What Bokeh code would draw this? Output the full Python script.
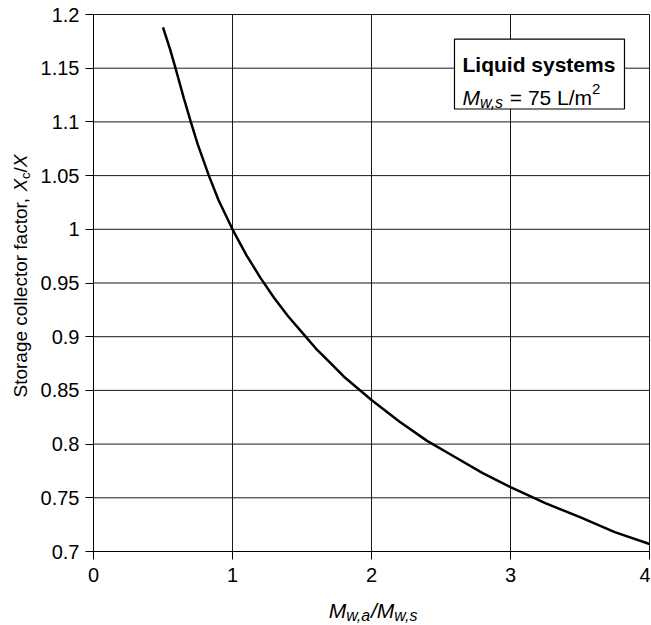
import math
from bokeh.plotting import figure
from bokeh.models import Range1d, FixedTicker, Label, BoxAnnotation
from bokeh.embed import file_html
from bokeh.resources import INLINE

# ---- data ----
ratio = [0.5, 0.55, 0.59, 0.65, 0.7, 0.75, 0.83, 0.9, 1.0, 1.1, 1.2, 1.3, 1.4, 1.5,
         1.6, 1.7, 1.8, 1.9, 2.0, 2.2, 2.4, 2.6, 2.8, 3.0, 3.25, 3.5, 3.75, 4.0]
factor = [1.188, 1.168, 1.150, 1.122, 1.100, 1.079, 1.050, 1.027, 1.000, 0.976, 0.955,
          0.936, 0.919, 0.904, 0.889, 0.876, 0.863, 0.852, 0.841, 0.821, 0.803, 0.788,
          0.773, 0.760, 0.745, 0.732, 0.718, 0.707]

x_ticks = [0, 1, 2, 3, 4]
x_tick_labels = ["0", "1", "2", "3", "4"]
y_ticks = [0.7, 0.75, 0.8, 0.85, 0.9, 0.95, 1.0, 1.05, 1.1, 1.15, 1.2]
y_tick_labels = ["0.7", "0.75", "0.8", "0.85", "0.9", "0.95", "1", "1.05", "1.1", "1.15", "1.2"]

FONT = "Liberation Sans"
NB = "\u00a0"

# Arial/Liberation advance widths (1/1000 em) for layout of composed labels
ADV = {' ': 278, NB: 278, ',': 278, '.': 278, '/': 278, '=': 584, 'S': 667, 'X': 667,
       'M': 833, 'L': 556, 'a': 556, 'c': 500, 'e': 556, 'f': 278, 'g': 556, 'l': 222,
       'm': 833, 'o': 556, 'r': 333, 's': 500, 't': 278, 'w': 722, 'i': 222, 'q': 556,
       'u': 556, 'd': 556, 'y': 500}


def tw(s, size):
    return sum(ADV.get(ch, 556) for ch in s) * size / 1000.0


# canvas size and where the chart's plotting box sits inside it (canvas px)
W, H = 650, 624
PL, PR, PT, PB = 93, 649, 14, 551

x0, x1 = x_ticks[0], x_ticks[-1]
y0, y1 = y_ticks[0], y_ticks[-1]
sx = (PR - PL) / (x1 - x0)
sy = (PB - PT) / (y1 - y0)
x_range = Range1d(x0 - PL / sx, x1 + (W - PR) / sx)
y_range = Range1d(y0 - (H - PB) / sy, y1 + PT / sy)

p = figure(width=W, height=H, x_range=x_range, y_range=y_range,
           output_backend="svg", toolbar_location=None,
           min_border_left=0, min_border_right=0, min_border_top=0, min_border_bottom=0)
p.background_fill_color = "white"
p.border_fill_color = "white"
p.outline_line_color = None
p.xgrid.visible = False
p.ygrid.visible = False

# axes pinned to the plotting box edges
p.xaxis.fixed_location = y0
p.yaxis.fixed_location = x0
p.xaxis.bounds = (x0, x1)
p.yaxis.bounds = (y0, y1)
p.xaxis.ticker = FixedTicker(ticks=x_ticks)
p.xaxis.major_label_overrides = {t: l for t, l in zip(x_ticks, x_tick_labels)}
p.yaxis.ticker = FixedTicker(ticks=y_ticks)
p.yaxis.major_label_overrides = {t: l for t, l in zip(y_ticks, y_tick_labels)}

for ax in (p.xaxis, p.yaxis):
    ax.axis_line_color = "black"
    ax.axis_line_width = 1
    ax.major_tick_line_color = "black"
    ax.major_tick_out = 8
    ax.major_tick_in = 0
    ax.minor_tick_line_color = None
    ax.major_label_text_font = FONT
    ax.major_label_text_font_size = "20px"
    ax.major_label_text_color = "black"
p.xaxis.major_label_standoff = 8
p.yaxis.major_label_standoff = 6

# grid lines (and box edges) at every tick, limited to the plotting box
p.segment(x0=x_ticks, y0=[y0] * len(x_ticks), x1=x_ticks, y1=[y1] * len(x_ticks),
          line_color="black", line_width=1, line_alpha=0.9)
p.segment(x0=[x0] * len(y_ticks), y0=y_ticks, x1=[x1] * len(y_ticks), y1=y_ticks,
          line_color="black", line_width=1, line_alpha=0.9)

p.line(ratio, factor, line_color="black", line_width=2.5)


def add_canvas_piece(cx, cy, text, size, style="normal", angle=0.0):
    # cx, cy: canvas pixels from the top-left corner
    p.add_layout(Label(x=cx, y=cy, x_units="canvas", y_units="canvas", text=text,
                       angle=angle,
                       text_font=FONT, text_font_size=f"{size}px",
                       text_font_style=style, text_color="black",
                       text_align="left", text_baseline="alphabetic"))


def add_data_piece(x, y, text, xo, yo, size, style="normal"):
    p.add_layout(Label(x=x, y=y, x_units="data", y_units="data", text=text,
                       x_offset=xo, y_offset=yo,
                       text_font=FONT, text_font_size=f"{size}px",
                       text_font_style=style, text_color="black",
                       text_align="left", text_baseline="alphabetic"))


# ---- x-axis title: M_w,a / M_w,s ----
xparts = [("M", 21, "italic", 0), ("w,a", 16, "italic", 5), ("/", 21, "italic", 0),
          ("M", 21, "italic", 0), ("w,s", 16, "italic", 5)]
total = sum(tw(t, sz) for t, sz, _, _ in xparts)
cx = (PL + PR) / 2 + 2 - total / 2
for t, sz, st, dy in xparts:
    add_canvas_piece(cx, PB + 59 + dy, t, sz, st)
    cx += tw(t, sz)

# ---- y-axis title (rotated): Storage collector factor, X_c/X ----
yparts = [("Storage collector factor," + NB, 19, "normal", 0), ("X", 19, "italic", 0),
          ("c", 13, "normal", 5), ("/", 19, "normal", 0), ("X", 19, "italic", 0)]
total = sum(tw(t, sz) for t, sz, _, _ in yparts)
cy = (PT + PB) / 2 - 7 + total / 2
for t, sz, st, dx in yparts:
    add_canvas_piece(PL - 73 + dx, cy, t, sz, st, angle=math.pi / 2)
    cy -= tw(t, sz)

# ---- annotation box ----
box_left, box_right, box_top, box_bottom = 2.597, 3.82, 1.177, 1.112
p.add_layout(BoxAnnotation(left=box_left, right=box_right, top=box_top, bottom=box_bottom,
                           fill_color="white", fill_alpha=1, line_color="black",
                           line_width=1.2, line_alpha=1))

# "Liquid systems"
add_data_piece(box_left, box_top, "Liquid systems", 8, -25, 21, "bold")
# "M_w,s = 75 L/m^2"
cx = 8
add_data_piece(box_left, box_top, "M", cx, -58, 21, "italic"); cx += tw("M", 21)
add_data_piece(box_left, box_top, "w,s", cx, -63, 16, "italic"); cx += tw("w,s", 16)
s = NB + "=" + NB + "75" + NB + "L/m"
add_data_piece(box_left, box_top, s, cx, -58, 21); cx += tw(s, 21)
add_data_piece(box_left, box_top, "2", cx, -50, 15)

open("out.html", "w").write(file_html(p, INLINE))
